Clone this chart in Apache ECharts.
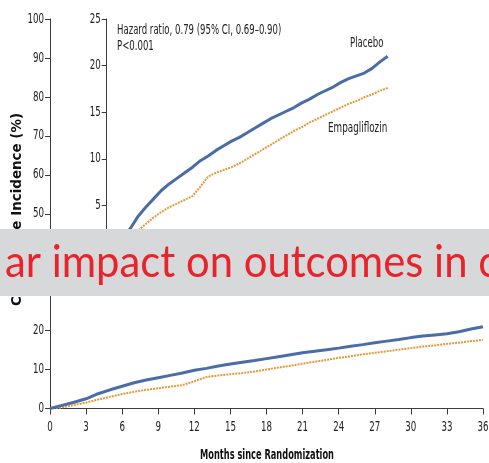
<!DOCTYPE html>
<html>
<head>
<meta charset="utf-8">
<script src="https://cdn.jsdelivr.net/npm/echarts@6/dist/echarts.min.js"></script>
<style>
  html, body { margin: 0; padding: 0; background: #ffffff; }
  #chart { width: 489px; height: 463px; }
</style>
</head>
<body>
<div id="chart"></div>
<script>
// Cumulative incidence by month since randomization (%)
const months = [0,1,2,3,4,5,6,7,8,9,10,11,12,13,14,15,16,17,18,19,20,21,22,23,24,25,26,27,28,29,30,31,32,33,34,35,36];
const placebo = [0,0.8,1.6,2.5,3.8,4.8,5.7,6.6,7.3,7.9,8.5,9.1,9.8,10.3,10.9,11.4,11.9,12.3,12.8,13.3,13.8,14.3,14.7,15.1,15.5,16.0,16.4,16.9,17.3,17.7,18.2,18.6,18.9,19.2,19.7,20.4,21.0];
const empagliflozin = [0,0.3,0.9,1.5,2.3,3.0,3.7,4.3,4.8,5.2,5.6,6.0,7.0,8.1,8.5,8.8,9.1,9.5,10.0,10.5,11.0,11.5,12.0,12.5,13.0,13.4,13.9,14.3,14.7,15.1,15.5,15.9,16.2,16.6,16.9,17.3,17.6];
const xTicks = [0,3,6,9,12,15,18,21,24,27,30,33,36];
const yTicksMain = [0,10,20,30,40,50,60,70,80,90,100];
const yTicksInset = [5,10,15,20,25];

const pairs = vals => months.map((m, i) => [m, vals[i]]);

const FONT = "'DejaVu Sans', sans-serif";
const AXIS = '#3a3a3a';
const INK = '#222';
const BLUE = '#4a6da6';
const ORANGE = '#e09a3a';
const CONDENSE = 0.62;   // horizontal squeeze for the condensed label face

const chart = echarts.init(document.getElementById('chart'), null, { renderer: 'canvas' });

const axisCommon = {
  axisLine: { show: true, lineStyle: { color: AXIS, width: 1 } },
  axisTick: { show: true, length: 5, lineStyle: { color: AXIS } },
  splitLine: { show: false },
  axisLabel: { show: false }
};

function condensedText(x, y, text, size, align, extra) {
  return Object.assign({
    type: 'text', x: x, y: y, scaleX: CONDENSE, z: 10, silent: true,
    style: { text: text, fill: INK, font: size + 'px ' + FONT, align: align, verticalAlign: 'middle' }
  }, extra || {});
}

chart.setOption({
  animation: false,
  backgroundColor: '#ffffff',
  grid: [
    { left: 50, top: 19, right: 6, bottom: 54.5 },
    { left: 106.7, top: 19, width: 281, height: 233 }
  ],
  xAxis: [
    Object.assign({}, axisCommon, {
      gridIndex: 0, type: 'value', min: 0, max: 36, interval: 3,
      axisTick: { show: true, length: 6, lineStyle: { color: AXIS } }
    }),
    { gridIndex: 1, type: 'value', min: 0, max: 36, show: false }
  ],
  yAxis: [
    Object.assign({}, axisCommon, { gridIndex: 0, type: 'value', min: 0, max: 100, interval: 10 }),
    Object.assign({}, axisCommon, { gridIndex: 1, type: 'value', min: 0, max: 25, interval: 5 })
  ],
  series: [
    { name: 'Placebo', type: 'line', xAxisIndex: 0, yAxisIndex: 0, data: pairs(placebo),
      showSymbol: false, lineStyle: { color: BLUE, width: 3 }, z: 3 },
    { name: 'Empagliflozin', type: 'line', xAxisIndex: 0, yAxisIndex: 0, data: pairs(empagliflozin),
      showSymbol: false, lineStyle: { color: ORANGE, width: 2, type: [2, 1] }, z: 2 },
    { name: 'Placebo', type: 'line', xAxisIndex: 1, yAxisIndex: 1, data: pairs(placebo),
      showSymbol: false, lineStyle: { color: BLUE, width: 3 }, z: 3 },
    { name: 'Empagliflozin', type: 'line', xAxisIndex: 1, yAxisIndex: 1, data: pairs(empagliflozin),
      showSymbol: false, lineStyle: { color: ORANGE, width: 2, type: [2, 1] }, z: 2 }
  ]
});

// Tick labels in a condensed face, placed through the axis scales
const labels = [];
xTicks.forEach(v => {
  const p = chart.convertToPixel({ xAxisIndex: 0, yAxisIndex: 0 }, [v, 0]);
  labels.push(condensedText(p[0], p[1] + 19, String(v), 14, 'center'));
});
yTicksMain.forEach(v => {
  const p = chart.convertToPixel({ xAxisIndex: 0, yAxisIndex: 0 }, [0, v]);
  labels.push(condensedText(p[0] - 6, p[1], String(v), 14, 'right'));
});
yTicksInset.forEach(v => {
  const p = chart.convertToPixel({ xAxisIndex: 1, yAxisIndex: 1 }, [0, v]);
  labels.push(condensedText(p[0] - 6, p[1], String(v), 14, 'right'));
});

chart.setOption({
  graphic: labels.concat([
    condensedText(117, 30, 'Hazard ratio, 0.79 (95% CI, 0.69–0.90)', 14, 'left', { scaleX: 0.61 }),
    condensedText(117, 46, 'P<0.001', 14, 'left', { scaleX: 0.61 }),
    condensedText(350, 43, 'Placebo', 14, 'left', { scaleX: 0.61 }),
    condensedText(328, 128, 'Empagliflozin', 14, 'left', { scaleX: 0.63 }),
    { type: 'text', x: 17, y: 209.5, rotation: Math.PI / 2, scaleX: 0.96, z: 10, silent: true,
      style: { text: 'Cumulative Incidence (%)', fill: '#111', font: 'bold 14px ' + FONT,
        align: 'center', verticalAlign: 'middle' } },
    { type: 'text', x: 267, y: 455, scaleX: 0.59, z: 10, silent: true,
      style: { text: 'Months since Randomization', fill: '#111', font: 'bold 14px ' + FONT,
        align: 'center', verticalAlign: 'middle' } },
    // overlay banner
    { type: 'rect', shape: { x: 0, y: 229, width: 489, height: 67 }, z: 100, silent: true,
      style: { fill: '#d7d8da' } },
    { type: 'text', x: 5, y: 263, scaleX: 0.95, z: 101, silent: true,
      style: { text: 'ar impact on outcomes in c', fill: '#e8232b', font: '44px Lato, sans-serif',
        align: 'left', verticalAlign: 'middle' } }
  ])
});
</script>
</body>
</html>
